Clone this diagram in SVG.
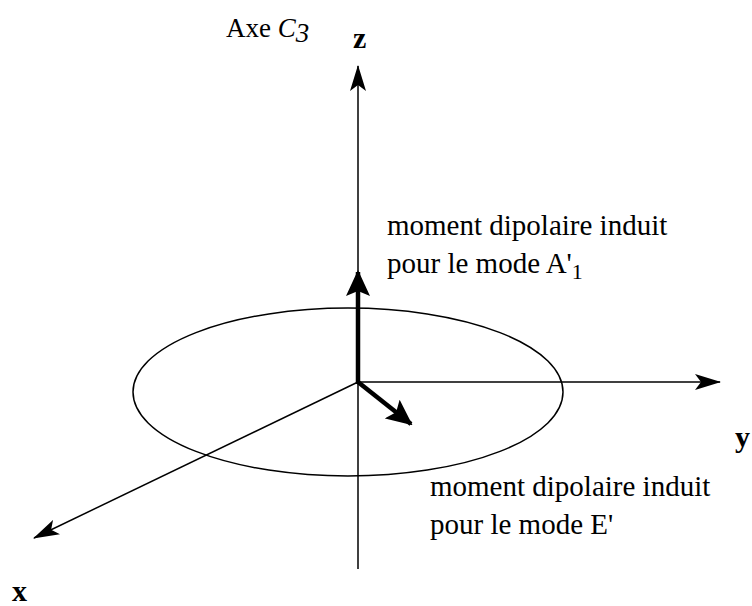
<svg xmlns="http://www.w3.org/2000/svg" width="752" height="606" viewBox="0 0 752 606">
<style>
.ax{stroke:#000;stroke-width:1.5;fill:none}
.thick{stroke:#000;stroke-width:4.5;fill:none}
.lbl{font-family:"Liberation Serif","DejaVu Serif",serif;font-size:29px;fill:#000}
.axl{font-family:"Liberation Serif","DejaVu Serif",serif;font-size:30px;font-weight:bold;fill:#000}
</style>
<defs>
<marker id="ah" markerWidth="26" markerHeight="16" refX="25" refY="8" orient="auto" markerUnits="userSpaceOnUse">
<path d="M0,0 L26,8 L0,16 L6,8 Z" fill="#000"/>
</marker>
<marker id="ahb" markerWidth="26" markerHeight="24" refX="24" refY="12" orient="auto" markerUnits="userSpaceOnUse">
<path d="M0,0 L26,12 L0,24 L5,12 Z" fill="#000"/>
</marker>
</defs>
<g id="ellipse">
<ellipse cx="348" cy="392" rx="215" ry="84" class="ax"/>
</g>
<g id="connectors">
<line x1="358" y1="569" x2="358" y2="66" class="ax" marker-end="url(#ah)"/>
<line x1="358" y1="382" x2="720" y2="382" class="ax" marker-end="url(#ah)"/>
<line x1="358" y1="382" x2="34" y2="538" class="ax" marker-end="url(#ah)"/>
<line x1="358" y1="384" x2="358" y2="272" class="thick" marker-end="url(#ahb)"/>
<line x1="358" y1="382" x2="411" y2="424" class="thick" marker-end="url(#ahb)"/>
</g>
<g id="labels">
<text x="226" y="37" class="lbl" style="font-size:27px">Axe <tspan font-style="italic">C</tspan><tspan font-style="italic" dy="5">3</tspan></text>
<text x="353" y="48" class="axl">z</text>
<text x="735" y="447" class="axl">y</text>
<text x="12" y="601" class="axl">x</text>
<text x="387" y="235" class="lbl">moment dipolaire induit</text>
<text x="387" y="273" class="lbl">pour le mode A'<tspan dy="6" style="font-size:22px">1</tspan></text>
<text x="430" y="496" class="lbl">moment dipolaire induit</text>
<text x="430" y="534" class="lbl">pour le mode E'</text>
</g>
</svg>
